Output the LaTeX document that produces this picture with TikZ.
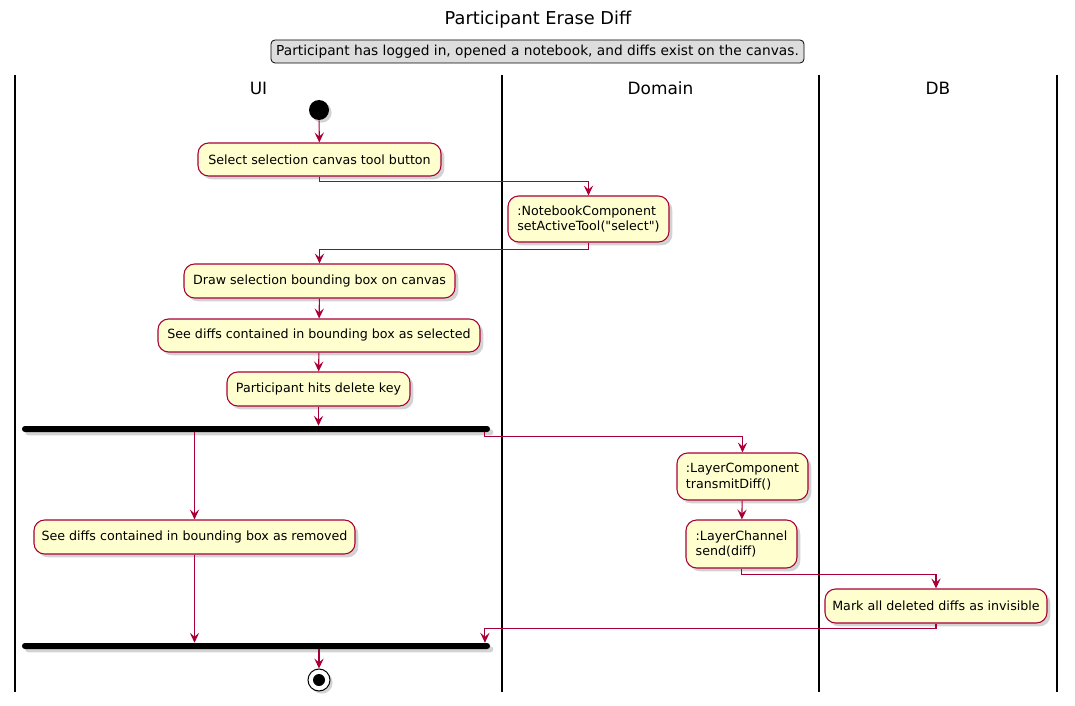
\documentclass[tikz,border=0pt]{standalone}
\usepackage{fontspec}
\setmainfont{DejaVu Sans}[Ligatures=TeXOff]
\usetikzlibrary{arrows.meta,shadows,calc}
\definecolor{pred}{HTML}{A80036}
\definecolor{pfill}{HTML}{FEFECE}
\definecolor{legfill}{HTML}{DDDDDD}
\tikzset{
  act/.style={draw=pred, fill=pfill, line width=0.8pt, rounded corners=8pt, inner sep=0pt,
    font=\fontsize{9.5}{11.5}\selectfont, align=left,
    drop shadow={shadow xshift=2.5pt, shadow yshift=-2.5pt, opacity=0.35, fill=gray}},
  flow/.style={draw=pred, line width=0.8pt, -{Stealth[length=7.5pt,width=7pt,inset=3pt]}},
  lane/.style={line width=1.5pt, black},
  lanehead/.style={font=\fontsize{12.7}{14}\selectfont},
  bar/.style={fill=black, rounded corners=2.2pt, inner sep=0pt, minimum height=4.5pt,
    drop shadow={shadow xshift=2.5pt, shadow yshift=-2.5pt, opacity=0.35, fill=gray}}
}
\begin{document}
\begin{tikzpicture}[x=0.75pt,y=-0.75pt]
\useasboundingbox (0,0) rectangle (1075,706);
% title and legend
\node[font=\fontsize{13.3}{15}\selectfont] (title) at (538,20) {Participant Erase Diff};
\node[draw=black, fill=legfill, rounded corners=3pt, line width=0.6pt, inner sep=0pt,
  minimum width=399.75pt, minimum height=17.25pt, font=\fontsize{10.3}{12}\selectfont] (legend) at (537.5,51.5)
  {Participant has logged in, opened a notebook, and diffs exist on the canvas.};
% lanes
\coordinate (l0t) at (15,75); \coordinate (l0b) at (15,692);
\coordinate (l1t) at (502,75); \coordinate (l1b) at (502,692);
\coordinate (l2t) at (819,75); \coordinate (l2b) at (819,692);
\coordinate (l3t) at (1057,75); \coordinate (l3b) at (1057,692);
\draw[lane] (l0t) -- (l0b);
\draw[lane] (l1t) -- (l1b);
\draw[lane] (l2t) -- (l2b);
\draw[lane] (l3t) -- (l3b);
\node[lanehead] (hui) at (258.5,88) {UI};
\node[lanehead] (hdom) at (660.5,88) {Domain};
\node[lanehead] (hdb) at (938,88) {DB};
% start
\node[circle, fill=black, minimum size=15pt, inner sep=0pt,
  drop shadow={shadow xshift=2pt, shadow yshift=-2pt, opacity=0.35, fill=gray}] (start) at (319,110) {};
% actions
\node[act, minimum width=182.25pt, minimum height=24.75pt] (a1) at (319.5,159.5) {Select selection canvas tool button};
\node[act, minimum width=120.75pt, minimum height=34.5pt] (a2) at (588.5,219) {:NotebookComponent\\setActiveTool("select")};
\node[act, minimum width=203.25pt, minimum height=25.5pt] (a3) at (319.5,281) {Draw selection bounding box on canvas};
\node[act, minimum width=241.5pt, minimum height=24.75pt] (a4) at (319,335.5) {See diffs contained in bounding box as selected};
\node[act, minimum width=137.25pt, minimum height=25.5pt] (a5) at (318.5,389) {Participant hits delete key};
\node[bar, minimum width=351pt] (fork) at (256,429) {};
\node[act, minimum width=240.75pt, minimum height=25.5pt] (a6) at (194.5,537) {See diffs contained in bounding box as removed};
\node[act, minimum width=98.25pt, minimum height=35.25pt] (a7) at (742.5,476.5) {:LayerComponent\\transmitDiff()};
\node[act, minimum width=83.25pt, minimum height=36pt] (a8) at (741.5,544) {:LayerChannel\\send(diff)};
\node[act, minimum width=166.5pt, minimum height=25.5pt] (a9) at (936,606) {Mark all deleted diffs as invisible};
\node[bar, minimum width=351pt] (join) at (256,646) {};
% end
\node[circle, draw=black, fill=white, line width=0.75pt, minimum size=16.5pt, inner sep=0pt,
  drop shadow={shadow xshift=2pt, shadow yshift=-2pt, opacity=0.35, fill=gray}] (end) at (319,680) {};
\node[circle, fill=black, minimum size=9pt, inner sep=0pt] (enddot) at (end.center) {};
% connectors
\draw[flow] (start) -- (a1);
\draw[flow] (a1.south) -- ++(0,5) -| (a2.north);
\draw[flow] (a2.south) -- ++(0,7) -| (a3.north);
\draw[flow] (a3) -- (a4);
\draw[flow] (a4) -- (a5);
\draw[flow] (a5.south) -- (a5.south |- fork.north);
\draw[flow] (fork.south -| a6.north) -- (a6.north);
\draw[flow] ([xshift=-4pt]fork.south east) -- ++(0,4) -| (a7.north);
\draw[flow] (a7) -- (a8);
\draw[flow] (a8.south) -- ++(0,6) -| (a9.north);
\draw[flow] (a9.south) -- ++(0,5) -| ([xshift=-4pt]join.north east);
\draw[flow] (a6.south) -- (a6.south |- join.north);
\draw[flow] (join.south -| end.north) -- (end.north);
\end{tikzpicture}
\end{document}
